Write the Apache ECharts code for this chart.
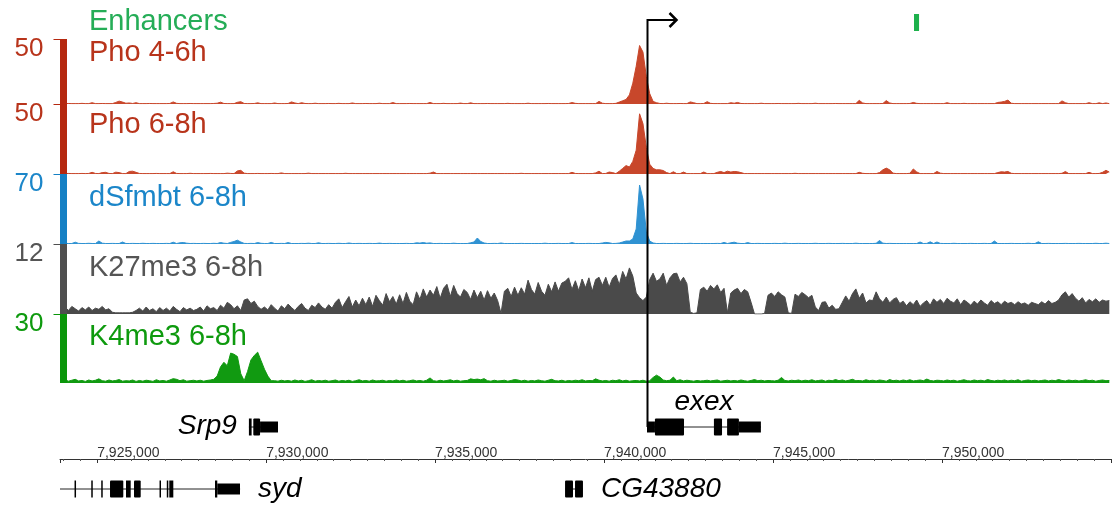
<!DOCTYPE html>
<html><head><meta charset="utf-8">
<script src="https://cdn.jsdelivr.net/npm/echarts@6/dist/echarts.min.js"></script>
<style>html,body{margin:0;padding:0;background:#fff}#c{width:1112px;height:506px}</style>
</head><body><div id="c"></div>
<script>
// ---------- data ----------
const regionStart = 7923900, regionEnd = 7955000, binSize = 100;
const trackNames = ['Pho 4-6h', 'Pho 6-8h', 'dSfmbt 6-8h', 'K27me3 6-8h', 'K4me3 6-8h'];
const trackMax = [50, 50, 70, 12, 30];
const enhancerLabel = 'Enhancers';

const pho46 = [
0.3,0.3,0.4,0.3,0.3,0.3,0.5,0.3,0.3,1.0,
0.3,0.3,0.4,0.3,0.3,0.3,1.2,2.2,1.5,0.6,
0.8,0.4,1.0,0.3,0.3,0.3,0.4,0.3,0.3,0.3,
0.3,0.3,0.4,1.6,0.5,0.3,0.3,0.3,0.4,0.3,
0.3,0.3,0.3,0.3,0.3,0.4,0.6,1.4,0.4,0.3,
0.3,0.3,1.3,1.8,0.4,0.3,0.3,0.4,0.9,0.3,
0.3,0.3,0.3,0.8,0.3,0.3,0.3,0.4,1.6,0.8,
0.3,1.0,0.4,0.3,0.3,0.6,0.3,0.3,0.3,0.4,
0.3,0.3,0.5,0.3,0.3,0.3,0.8,0.3,0.3,0.3,
0.4,0.3,0.3,0.3,0.6,0.3,0.3,0.3,1.1,0.3,
0.3,0.3,0.3,0.4,0.3,0.3,0.3,0.3,0.3,1.2,
0.3,0.3,0.3,0.5,0.3,0.3,0.3,0.3,0.7,0.3,
0.3,0.9,0.3,0.3,0.3,0.3,0.4,0.3,0.3,0.3,
0.3,0.3,0.5,0.3,0.3,0.3,0.3,0.3,0.6,0.3,
0.3,0.3,0.3,0.3,0.4,0.3,0.3,0.3,0.3,0.3,
0.4,1.1,0.5,0.3,0.3,0.3,0.3,0.3,0.3,2.0,
0.6,0.3,0.3,0.3,0.5,1.5,2.5,3.5,7,16,
29,45,40,21,8,2,1,0.4,0.3,0.6,
0.3,0.3,0.3,0.4,0.3,0.3,1.6,1.0,0.3,0.3,
0.4,1.8,0.5,0.3,0.3,0.3,0.3,0.3,1.0,0.6,
1.2,0.4,0.3,0.3,0.3,0.3,0.3,0.6,0.3,0.3,
0.3,0.3,0.4,0.3,0.3,0.3,0.3,0.3,0.5,0.3,
0.3,0.3,0.3,0.6,0.3,0.3,0.3,0.3,0.3,0.4,
0.3,0.3,0.3,0.3,0.3,0.3,2.8,0.8,0.3,0.3,
0.3,0.3,0.3,0.4,2.6,0.8,0.3,0.3,0.3,0.3,
0.3,0.4,1.2,0.5,0.3,0.3,0.3,0.3,0.3,0.3,
0.3,0.3,1.0,0.3,0.3,0.3,0.3,0.5,0.3,0.3,
0.3,0.3,0.3,0.3,0.3,0.3,0.3,1.2,1.5,2.0,
3.0,0.6,0.3,0.3,0.3,0.3,0.3,0.3,0.3,0.3,
0.3,0.3,0.3,0.3,0.3,0.3,2.4,1.0,0.3,0.3,
0.3,0.3,0.3,0.3,1.0,0.3,0.3,0.9,0.3,0.8,
0.3];

const pho68 = [
0.3,0.3,0.4,0.3,0.3,0.3,0.4,0.3,0.4,1.2,
0.4,0.3,1.0,1.2,0.4,0.3,1.3,1.0,0.3,0.3,
1.8,2.0,1.2,0.4,0.3,0.3,0.3,0.3,0.4,0.3,
0.3,0.3,0.3,1.6,0.4,0.3,0.3,0.3,0.5,0.3,
0.3,0.3,0.3,0.3,0.4,0.3,0.3,0.3,0.3,0.6,
0.4,0.3,2.2,2.6,0.6,0.3,0.3,0.3,0.4,0.3,
0.3,0.3,0.4,0.3,0.3,0.8,0.3,0.3,0.3,0.3,
0.3,0.3,0.3,0.6,0.3,0.3,0.3,0.3,0.3,0.3,
0.3,0.3,0.3,0.3,0.5,0.3,0.3,0.3,0.3,0.3,
0.3,0.3,0.3,0.3,0.3,0.3,0.3,0.3,0.3,0.3,
0.3,0.3,0.3,0.3,0.3,0.3,0.3,0.3,0.3,0.6,
1.4,0.3,0.3,0.3,0.3,0.3,0.3,0.3,0.3,0.3,
0.3,0.3,0.3,0.3,0.3,0.3,0.3,0.3,0.3,0.3,
0.3,0.3,0.3,0.3,0.3,0.3,0.5,0.3,0.3,0.3,
0.3,0.3,0.3,0.3,0.3,0.3,0.3,0.3,0.3,0.3,
0.3,1.2,0.4,0.3,0.3,0.3,0.3,0.3,0.8,2.0,
0.3,0.4,1.4,1.0,0.3,2,4,6,5,9,
17,43,36,19,7,4,3,3,2.5,1.0,
0.3,1.6,0.3,0.3,1.4,0.3,0.3,0.3,0.3,0.3,
1.4,0.3,0.3,0.3,1.2,1.8,1.0,2.0,1.4,1.8,
1.6,1.0,0.3,0.3,0.3,0.3,0.3,0.3,0.3,0.3,
0.3,0.3,0.3,0.3,0.3,0.3,0.3,0.5,0.3,0.3,
0.3,0.3,0.3,0.3,0.3,0.3,0.3,0.3,0.3,0.3,
0.3,0.3,0.3,0.3,0.3,0.3,1.2,0.5,0.3,0.3,
0.3,0.3,1.0,3.0,4.2,3.0,0.6,0.3,0.3,0.3,
0.3,0.5,3.6,1.5,0.3,0.3,0.3,0.3,0.3,1.8,
0.6,0.3,0.3,0.3,0.3,0.3,0.3,0.3,0.3,0.3,
0.3,0.3,0.3,0.3,0.3,0.3,0.3,1.0,1.6,1.4,
1.8,0.5,0.3,0.3,0.3,0.3,0.3,0.3,0.3,0.3,
0.3,0.3,0.3,0.3,0.3,0.3,0.5,1.8,0.3,0.3,
0.3,0.3,0.3,0.3,1.2,0.3,0.3,0.4,1.2,2.6,
1.4];

const dsfmbt = [
0.5,0.6,0.5,0.5,1.8,0.6,0.5,0.5,0.7,0.5,
0.5,3.0,0.8,0.5,0.5,0.6,0.5,0.5,2.0,0.5,
0.5,0.6,0.5,0.5,0.7,0.5,0.5,0.6,0.5,0.5,
0.5,0.6,0.5,1.8,0.5,1.2,1.5,0.8,0.5,0.6,
0.5,0.5,0.6,0.5,0.5,0.7,0.5,1.5,0.8,0.5,
1.6,2.5,3.8,2.0,0.6,0.5,0.6,0.5,1.4,0.7,
0.5,0.5,1.6,0.5,0.5,0.6,0.5,1.4,0.5,0.5,
0.5,0.6,0.5,0.8,0.5,0.5,1.2,0.5,0.5,0.6,
0.5,0.5,0.7,0.5,0.5,1.0,0.5,0.5,0.6,0.5,
0.5,0.6,0.5,0.5,0.9,0.5,0.5,0.6,0.5,0.5,
0.5,0.5,0.6,0.5,0.5,1.2,0.9,1.5,0.8,1.1,
0.5,0.5,0.6,0.5,0.5,0.5,0.8,0.5,0.5,0.5,
0.5,1.2,2.0,6.0,2.5,1.0,0.5,0.5,0.6,0.5,
1.0,0.5,0.5,0.5,0.5,0.5,0.6,0.5,0.5,0.5,
0.5,0.5,0.5,0.8,0.5,0.5,0.5,0.6,0.5,0.5,
0.5,1.4,0.5,0.5,0.5,0.5,0.6,0.5,0.5,0.5,
1.0,1.6,1.2,0.5,0.6,1.0,2,3,3,5,
15,59,45,12,3,1,0.5,0.5,0.6,0.5,
0.5,0.5,0.6,0.5,0.5,0.5,0.7,0.5,0.5,0.5,
0.5,0.5,0.5,0.5,0.6,0.5,1.6,0.5,1.2,1.8,
0.8,0.5,0.5,1.4,0.5,0.5,0.6,0.5,0.5,0.5,
0.5,0.6,0.5,0.5,0.8,0.5,0.5,0.5,0.6,0.5,
0.5,0.5,0.5,0.7,0.5,0.5,0.5,0.6,0.5,0.5,
0.5,0.6,0.5,0.5,0.5,0.8,0.5,0.5,0.5,0.5,
0.5,0.7,3.5,0.8,0.5,0.6,0.5,0.5,0.5,0.5,
0.5,0.5,0.5,0.5,2.0,0.5,0.6,2.2,0.5,2.0,
0.6,0.5,0.5,0.5,0.7,0.5,0.5,0.5,0.5,0.6,
0.5,0.5,0.5,0.6,0.5,0.5,3.0,0.5,0.5,0.5,
0.5,0.6,0.5,0.5,0.5,0.5,0.7,0.5,0.5,2.2,
0.5,0.5,0.6,0.5,0.5,0.5,0.5,0.6,0.5,0.5,
0.5,0.6,0.5,0.5,0.5,0.5,0.7,0.5,0.5,0.8,
0.5];

const k27me3 = [
0.8,1.2,0.6,1.3,0.9,0.5,1.1,0.7,1.2,0.6,
1.0,0.8,1.3,0.7,0.9,0.3,0.2,0.2,0.2,0.2,
0.2,0.3,0.6,1.0,0.5,1.2,0.6,0.9,0.4,1.1,
0.6,1.0,0.5,1.3,0.8,0.4,1.1,0.7,1.0,0.6,
0.8,1.2,0.5,1.4,0.9,1.1,0.6,1.5,1.0,2.0,
1.6,0.9,1.4,0.6,2.4,2.6,1.8,2.2,1.3,0.8,
1.2,0.7,1.6,1.0,0.5,1.4,0.9,1.7,1.1,0.6,
1.3,1.8,1.0,0.6,1.5,1.1,1.9,1.2,0.8,1.6,
1.0,2.0,2.6,1.1,2.1,3.0,1.2,2.4,1.4,2.7,
1.6,2.9,1.3,3.2,2.3,1.5,3.5,2.1,3.0,1.7,
3.3,1.8,3.7,2.2,1.6,3.8,2.5,4.3,2.9,4.1,
3.2,4.7,2.7,4.4,5.1,3.0,4.9,3.5,2.9,4.2,
3.7,2.5,4.1,2.8,3.9,2.4,4.0,2.7,3.6,2.3,
0.1,3.9,4.4,3.0,4.6,3.2,4.5,3.4,5.8,4.2,
3.4,5.4,3.9,3.2,5.1,3.8,5.5,3.9,5.3,5.6,
6.2,4.2,5.7,4.0,6.0,4.5,6.2,3.9,5.9,6.3,
4.9,6.3,4.6,6.1,6.7,5.0,7.3,6.0,7.9,6.5,
3.6,2.8,2.3,2.9,5.9,7.0,5.6,6.0,7.0,4.9,
6.2,6.9,7.0,5.5,6.3,5.2,0.3,0.1,0.2,4.2,
4.6,3.9,4.9,4.3,5.0,3.7,4.4,0.2,3.6,4.1,
4.4,3.5,4.2,3.8,2.0,0.0,0.0,0.0,0.1,3.2,
3.6,3.0,3.8,3.3,2.9,0.2,0.1,3.4,3.0,3.7,
3.3,2.8,3.2,1.2,0.6,2.0,2.1,1.0,1.5,0.8,
0.9,2.0,3.1,2.2,3.5,4.3,2.7,3.6,1.9,2.4,
2.3,3.8,2.6,2.0,2.9,1.9,2.5,2.8,1.8,2.2,
1.4,2.1,1.6,2.4,1.3,1.9,2.3,1.5,2.6,2.0,
2.5,1.8,2.7,2.2,1.9,2.6,1.6,2.4,2.0,1.5,
2.2,1.7,2.4,1.9,1.5,2.3,1.8,2.1,1.6,2.2,
1.8,2.0,1.6,2.1,1.7,1.9,1.5,2.0,1.8,1.6,
2.1,1.7,2.3,1.8,2.0,2.4,3.3,3.8,2.9,3.5,
2.7,2.2,2.8,1.9,2.5,2.1,2.6,2.0,2.4,2.2,
2.3];

const k4me3 = [
1.0,1.4,0.8,1.2,1.6,0.9,1.1,0.7,1.3,0.9,
1.2,1.8,1.0,0.8,1.3,0.9,1.1,1.5,0.8,1.0,
0.9,1.3,0.7,1.1,0.8,1.2,1.0,0.7,1.4,0.9,
1.1,0.8,1.3,1.9,1.6,1.0,1.4,0.8,1.0,1.2,
0.9,1.2,0.8,1.1,1.3,1.6,3,7,9,7.5,
13,12.5,11.5,4,1,5,10,12,13.4,9.7,
6,3,1,1.0,0.8,1.2,0.9,1.1,0.8,1.3,
0.9,1.2,0.7,1.0,1.4,0.8,1.1,0.9,1.2,0.8,
1.0,1.3,0.8,1.1,0.9,1.2,0.7,1.0,1.4,0.9,
1.1,0.8,1.3,0.9,1.0,1.2,0.8,1.1,0.9,1.3,
0.9,1.2,0.8,1.0,1.3,0.9,1.1,0.8,1.2,2.2,
1.0,0.8,1.2,0.9,1.1,1.4,0.9,1.2,0.8,1.0,
1.1,1.8,1.5,1.7,1.4,1.9,1.0,0.8,1.2,0.9,
1.0,1.2,0.8,1.1,1.5,1.3,0.9,1.2,0.8,1.1,
0.9,1.3,1.0,0.8,1.2,1.6,1.0,0.9,1.2,0.8,
1.1,0.9,1.2,1.0,1.4,0.9,1.1,1.0,1.8,1.2,
0.9,1.1,0.8,1.2,1.0,1.4,0.9,1.2,0.8,1.0,
1.1,0.9,1.2,0.8,1.0,2.4,3.4,2.6,1.3,1.0,
1.2,2.6,1.0,1.4,0.9,1.2,1.0,0.8,1.1,0.9,
1.0,1.2,0.9,1.1,1.3,0.8,1.0,1.2,0.9,1.1,
0.9,1.3,1.0,0.8,1.1,1.5,1.0,1.2,0.9,1.1,
1.0,0.9,1.2,2.4,1.1,0.9,1.2,1.0,1.3,0.9,
1.2,1.0,1.4,0.9,1.1,1.3,0.8,1.2,1.0,1.5,
1.0,1.3,0.9,1.2,1.6,1.0,1.1,0.9,1.4,1.0,
1.2,0.9,1.3,1.1,0.8,1.5,1.0,1.2,0.9,1.3,
1.0,1.4,0.9,1.1,1.3,1.0,1.7,1.1,0.9,1.2,
1.1,0.9,1.3,1.0,1.2,0.8,1.1,1.4,1.0,0.9,
1.3,1.0,1.2,0.9,1.5,1.1,0.9,1.2,1.0,1.3,
0.9,1.2,1.0,1.4,0.8,1.1,1.3,1.0,1.2,0.9,
1.1,1.3,0.9,1.2,1.0,1.5,1.1,0.9,1.3,1.0,
1.2,0.9,1.1,1.4,1.0,1.2,0.8,1.1,1.3,1.0,
1.1];

const enhancers = [[7949170, 7949320]];
const tssPosition = 7941270;

// gene parts: [start, end, kind]  kind 0 = intron line, 1 = UTR (thin), 2 = coding (tall)
const geneNames = ['Srp9', 'exex', 'syd', 'CG43880'];
const srp9Parts = [[7929490,7930350,0],[7929490,7929570,2],[7929620,7929820,2],[7929820,7930350,1]];
const exexParts = [[7941270,7944640,0],[7941270,7941505,1],[7941505,7942365,2],[7943250,7943490,2],[7943640,7943990,2],[7943990,7944640,1]];
const sydParts = [[7923900,7929230,0],[7924330,7924360,2],[7924825,7924855,2],[7925120,7925150,2],[7925380,7925773,2],[7925853,7925992,2],[7926090,7926288,2],[7926845,7926875,2],[7927060,7927090,2],[7927134,7927253,2],[7928486,7928554,2],[7928554,7929226,1]];
const cg43880Parts = [[7938845,7939375,0],[7938845,7939080,2],[7939140,7939375,2]];

// ---------- layout / style ----------
const FONT = '"Liberation Sans", Arial, Helvetica, sans-serif';
const trackData = [pho46, pho68, dsfmbt, k27me3, k4me3];
const trackTop = [39, 104, 174, 244, 314];
const trackHeight = [65, 70, 70, 70, 69];
const trackLabelY = [53, 125, 198, 268, 337];
const trackTextColor = ['#b8341b', '#b8341b', '#1b86c9', '#555555', '#0e9a0e'];
const trackBarColor = ['#b5280f', '#b5280f', '#1580c4', '#4f4f4f', '#0a960a'];
const trackFillColor = ['#c8472b', '#c8472b', '#2f92d2', '#4a4a4a', '#119a11'];
const geneParts = [srp9Parts, exexParts, sydParts, cg43880Parts];
const geneLane = [0.5, 0.5, -0.5, -0.5];
const geneLabelSide = ['left', 'top', 'right', 'right'];
const GL = 60, GR = 1;

const chart = echarts.init(document.getElementById('c'), null, {renderer: 'canvas'});

const grids = [{left: GL, right: GR, top: 14, height: 17}];
const xAxes = [{gridIndex: 0, type: 'value', min: regionStart, max: regionEnd, show: false}];
const yAxes = [{gridIndex: 0, type: 'value', min: 0, max: 1, show: false}];
const series = [];

series.push({
  type: 'custom', xAxisIndex: 0, yAxisIndex: 0, data: enhancers, encode: {x: [0, 1]},
  renderItem: function (params, api) {
    const a = api.coord([api.value(0), 1]);
    const b = api.coord([api.value(1), 0]);
    return {type: 'rect', shape: {x: a[0], y: a[1], width: Math.max(b[0] - a[0], 4), height: b[1] - a[1]},
            style: {fill: '#1db14c'}};
  }
});

trackNames.forEach(function (name, i) {
  const gi = i + 1;
  grids.push({left: GL, right: GR, top: trackTop[i], height: trackHeight[i]});
  xAxes.push({gridIndex: gi, type: 'value', min: regionStart, max: regionEnd, show: false});
  yAxes.push({
    gridIndex: gi, type: 'value', min: 0, max: trackMax[i], interval: trackMax[i],
    position: 'left', offset: -3.5, z: 5,
    axisLine: {show: true, lineStyle: {color: trackBarColor[i], width: 7, cap: 'butt'}},
    axisTick: {show: true, length: 10, lineStyle: {color: trackBarColor[i], width: 1}},
    axisLabel: {showMinLabel: false, color: trackTextColor[i], fontSize: 26, fontFamily: FONT,
                margin: 20, verticalAlign: 'top', lineHeight: 19},
    splitLine: {show: false}
  });
  series.push({
    type: 'line', xAxisIndex: gi, yAxisIndex: gi, symbol: 'none',
    data: trackData[i].map(function (v, k) { return [regionStart + binSize * (k + 0.5), v]; }),
    lineStyle: {color: trackFillColor[i], width: 1},
    areaStyle: {color: trackFillColor[i], opacity: 1},
    silent: true, z: 2
  });
});

// gene grid (hidden axes)
const G = 6;
grids.push({left: GL, right: GR, top: 420.8, height: 74.4});
xAxes.push({gridIndex: G, type: 'value', min: regionStart, max: regionEnd, show: false});
yAxes.push({gridIndex: G, type: 'value', min: -0.6, max: 0.6, show: false});

// genomic coordinate axis
const A = 7;
grids.push({left: GL, right: GR, top: 458, height: 1});
xAxes.push({
  gridIndex: A, type: 'value', min: regionStart, max: regionEnd, splitNumber: 6, position: 'top',
  axisLine: {show: true, lineStyle: {color: '#333', width: 1}},
  axisTick: {show: true, inside: true, length: 4, lineStyle: {color: '#333'}},
  minorTick: {show: true, splitNumber: 10, length: 2, lineStyle: {color: '#555'}},
  axisLabel: {align: 'left', margin: -2, fontSize: 14, fontFamily: FONT, color: '#333',
              showMinLabel: false, showMaxLabel: false,
              formatter: function (v) { return v.toLocaleString('en-US'); }},
  splitLine: {show: false}
});
yAxes.push({gridIndex: A, type: 'value', min: 0, max: 1, show: false});

function geneRenderer(gIdx) {
  return function (params, api) {
    const lane = geneLane[gIdx];
    const s = api.value(0), e = api.value(1), kind = api.value(2);
    const p0 = api.coord([s, lane]), p1 = api.coord([e, lane]);
    const y = p0[1];
    const children = [];
    if (kind === 0) {
      children.push({type: 'line', shape: {x1: p0[0], y1: y, x2: p1[0], y2: y},
                     style: {stroke: '#222', lineWidth: 1}});
    } else {
      const h = kind === 2 ? 17 : 11;
      const w = Math.max(p1[0] - p0[0], 1.5);
      children.push({type: 'rect', shape: {x: p0[0], y: y - h / 2, width: w, height: h, r: kind === 2 && w > 6 ? 1 : 0},
                     style: {fill: '#000'}});
    }
    if (params.dataIndex === 0) {
      const side = geneLabelSide[gIdx];
      const tStyle = {text: geneNames[gIdx], fill: '#000', fontSize: 28, fontStyle: 'italic', fontFamily: FONT};
      let tx, ty, align = 'left';
      if (side === 'left') { tx = p0[0] - 12; ty = y - 1; align = 'right'; }
      else if (side === 'right') { tx = p1[0] + 18; ty = y; }
      else { tx = (p0[0] + p1[0]) / 2; ty = y - 25; align = 'center'; }
      children.push({type: 'text', x: tx, y: ty,
                     style: Object.assign(tStyle, {align: align, verticalAlign: 'middle'})});
    }
    return {type: 'group', children: children};
  };
}

geneParts.forEach(function (parts, gIdx) {
  series.push({
    type: 'custom', xAxisIndex: G, yAxisIndex: G, z: 4, silent: true,
    data: parts.map(function (p) { return [p[0], p[1], p[2], geneLane[gIdx]]; }),
    encode: {x: [0, 1], y: 3},
    renderItem: geneRenderer(gIdx)
  });
});

// TSS arrow
series.push({
  type: 'custom', xAxisIndex: G, yAxisIndex: G, z: 20, silent: true,
  data: [[tssPosition, geneLane[1]]], encode: {x: 0, y: 1},
  renderItem: function (params, api) {
    const p = api.coord([api.value(0), api.value(1)]);
    const x = Math.round(p[0]) + 0.5, top = 20;
    return {type: 'group', children: [
      {type: 'polyline', shape: {points: [[x, p[1]], [x, top], [x + 28, top]]},
       style: {stroke: '#000', lineWidth: 2, fill: null}},
      {type: 'polyline', shape: {points: [[x + 22, top - 7], [x + 29, top], [x + 22, top + 7]]},
       style: {stroke: '#000', lineWidth: 2.5, fill: null}}
    ]};
  }
});

const graphics = [{type: 'text', x: 89, y: 22,
  style: {text: enhancerLabel, fill: '#25ad57', fontSize: 29, fontFamily: FONT, verticalAlign: 'middle'}}];
trackNames.forEach(function (name, i) {
  graphics.push({type: 'text', x: 89, y: trackLabelY[i],
                 style: {text: name, fill: trackTextColor[i], fontSize: 29, fontFamily: FONT, verticalAlign: 'middle'}});
});

chart.setOption({
  animation: false,
  backgroundColor: '#ffffff',
  grid: grids, xAxis: xAxes, yAxis: yAxes, series: series, graphic: graphics
});
</script>
</body></html>
